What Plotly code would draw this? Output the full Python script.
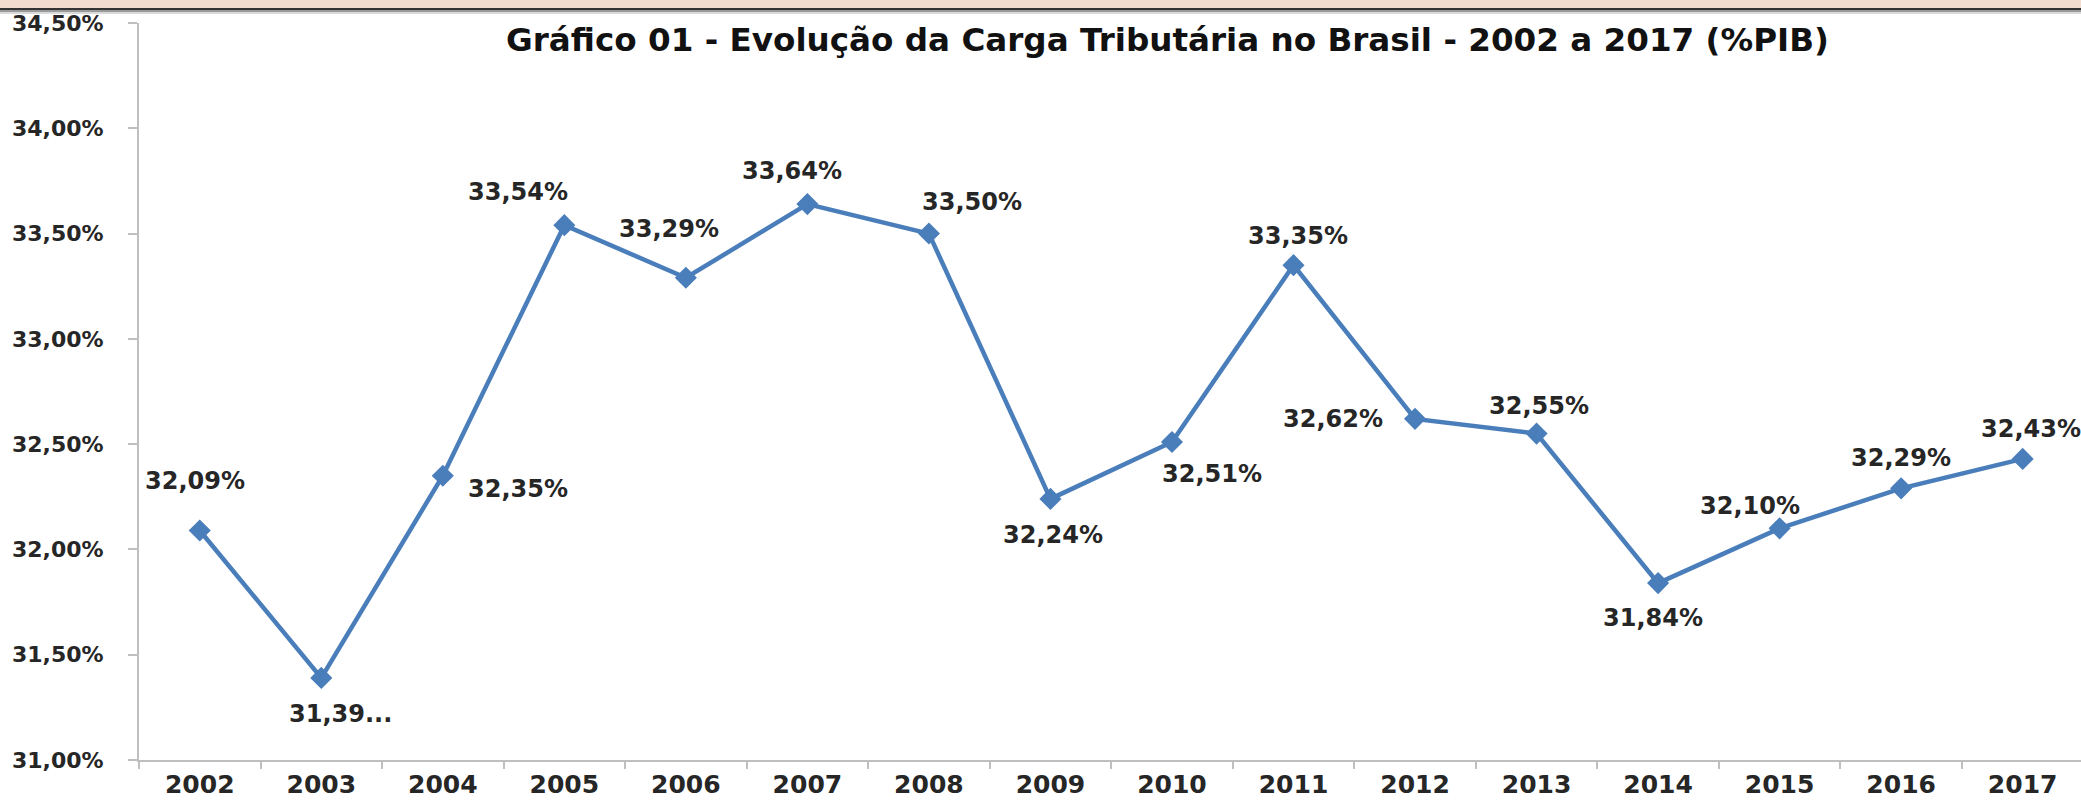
import plotly.graph_objects as go

# ---- data ----
years = ["2002", "2003", "2004", "2005", "2006", "2007", "2008", "2009",
         "2010", "2011", "2012", "2013", "2014", "2015", "2016", "2017"]
carga = [32.09, 31.39, 32.35, 33.54, 33.29, 33.64, 33.50, 32.24,
         32.51, 33.35, 32.62, 32.55, 31.84, 32.10, 32.29, 32.43]
labels = ["32,09%", "31,39...", "32,35%", "33,54%", "33,29%", "33,64%", "33,50%", "32,24%",
          "32,51%", "33,35%", "32,62%", "32,55%", "31,84%", "32,10%", "32,29%", "32,43%"]
y_ticks = [31.0, 31.5, 32.0, 32.5, 33.0, 33.5, 34.0, 34.5]
y_tick_text = ["31,00%", "31,50%", "32,00%", "32,50%", "33,00%", "33,50%", "34,00%", "34,50%"]
title = "Gráfico 01 - Evolução da Carga Tributária no Brasil - 2002 a 2017 (%PIB)"

# ---- style / layout ----
W, H = 2081, 803
ML, MR, MT, MB = 139, 0, 23, 43
BLUE = "#4a7ebb"
TXT = "#262626"
AX = "#bfbfbf"
FONT = "DejaVu Sans"
# label offsets in pixels (dx right, dy down) relative to each marker
label_offsets = [(-5, -49), (19, 36), (75, 13), (-46, -33), (-17, -49), (-15, -33),
                 (43, -32), (3, 36), (40, 32), (4, -29), (-82, 0), (2, -28),
                 (-5, 35), (-30, -22), (0, -30), (8, -30)]

pw = W - ML - MR
ph = H - MT - MB


def px_x(px):
    return (px - ML) / pw


def px_y(py):
    return (H - MB - py) / ph


fig = go.Figure()
fig.add_trace(go.Scatter(
    x=years, y=carga, mode="lines+markers",
    line=dict(color=BLUE, width=4.5),
    marker=dict(symbol="diamond", size=17, color=BLUE),
    cliponaxis=False, hoverinfo="skip", showlegend=False,
))

annotations = []
for i, (v, t, (dx, dy)) in enumerate(zip(carga, labels, label_offsets)):
    annotations.append(dict(
        x=i, y=v, xref="x", yref="y", text=t, showarrow=False,
        xshift=dx, yshift=-dy, xanchor="center", yanchor="middle",
        font=dict(family=FONT, size=24, color=TXT, weight="bold"),
    ))
annotations.append(dict(
    x=px_x(1167), y=px_y(40), xref="paper", yref="paper",
    text=title, showarrow=False, xanchor="center", yanchor="middle",
    font=dict(family=FONT, size=32.6, color="#111111", weight="bold"),
))

shapes = [
    dict(type="rect", xref="paper", yref="paper", x0=px_x(0), x1=px_x(W),
         y0=px_y(8), y1=px_y(0), fillcolor="#f2dccf", line=dict(width=0), layer="above"),
    dict(type="rect", xref="paper", yref="paper", x0=px_x(0), x1=px_x(W),
         y0=px_y(10), y1=px_y(8), fillcolor="#333333", line=dict(width=0), layer="above"),
    dict(type="rect", xref="paper", yref="paper", x0=px_x(0), x1=px_x(W),
         y0=px_y(12), y1=px_y(10), fillcolor="#9a9a9a", line=dict(width=0), layer="above"),
    dict(type="rect", xref="paper", yref="paper", x0=px_x(0), x1=px_x(W),
         y0=px_y(14), y1=px_y(12), fillcolor="#dadada", line=dict(width=0), layer="above"),
]

fig.update_layout(
    width=W, height=H, autosize=False,
    margin=dict(l=ML, r=MR, t=MT, b=MB, pad=0),
    paper_bgcolor="white", plot_bgcolor="white",
    annotations=annotations, shapes=shapes,
    font=dict(family=FONT, color=TXT),
)
fig.update_xaxes(
    type="category", range=[-0.5, 15.48],
    tickson="boundaries", ticks="outside", ticklen=7, tickwidth=2, tickcolor=AX,
    showline=True, linecolor=AX, linewidth=2, showgrid=False, zeroline=False,
    tickfont=dict(family=FONT, size=25, color=TXT, weight="bold"), ticklabelstandoff=1,
)
fig.update_yaxes(
    range=[31.0, 34.5], tickvals=y_ticks, ticktext=y_tick_text,
    ticks="outside", ticklen=9, tickwidth=2, tickcolor=AX,
    showline=True, linecolor=AX, linewidth=2, showgrid=False, zeroline=False,
    tickfont=dict(family=FONT, size=22, color=TXT, weight="bold"), ticklabelstandoff=20,
)

fig.write_html(
    "out.html",
    config={"displayModeBar": False},
    post_script="document.body.style.margin='0';document.body.style.overflow='hidden';",
)
